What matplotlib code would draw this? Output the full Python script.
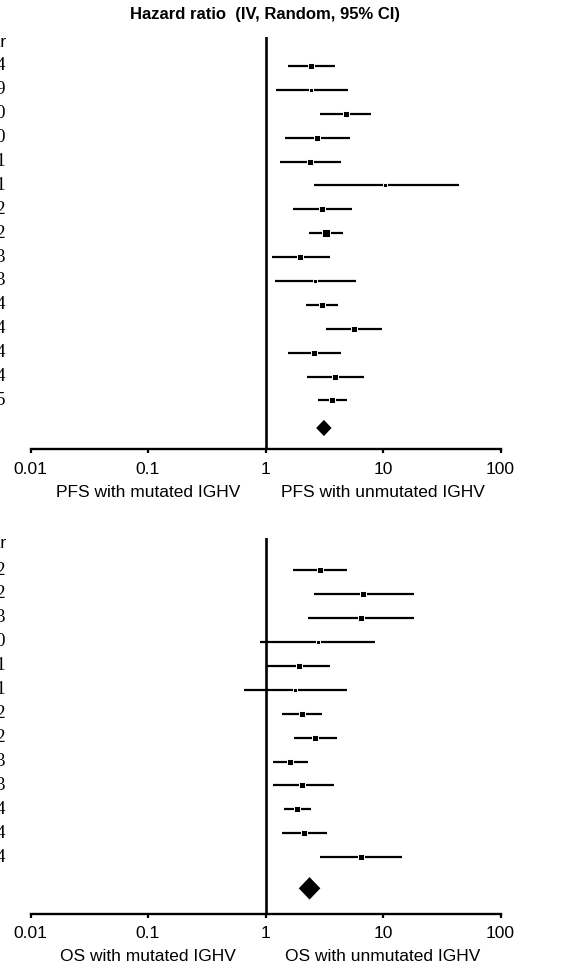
import matplotlib
matplotlib.use("Agg")
import matplotlib.pyplot as plt
import matplotlib.transforms as transforms

# PFS panel (top)
pfs_years = ["2004", "2009", "2010", "2010", "2011", "2011", "2012", "2012",
             "2013", "2013", "2014", "2014", "2014", "2014", "2015"]
pfs_hr = [2.45, 2.42, 4.81, 2.74, 2.40, 10.5, 3.04, 3.27, 1.96, 2.63, 3.00, 5.63, 2.57, 3.88, 3.68]
pfs_low = [1.56, 1.22, 2.93, 1.47, 1.33, 2.58, 1.73, 2.33, 1.14, 1.20, 2.19, 3.25, 1.54, 2.24, 2.79]
pfs_high = [3.87, 5.03, 7.85, 5.27, 4.39, 44.2, 5.48, 4.56, 3.51, 5.85, 4.13, 9.75, 4.36, 6.85, 4.93]
pfs_weight = [2.5, 2.0, 2.5, 3.0, 3.0, 1.5, 3.0, 4.0, 3.0, 1.5, 3.5, 3.0, 2.5, 3.0, 3.5]
pfs_pooled = [3.14, 2.70, 3.65]  # estimate, low, high

# OS panel (bottom)
os_years = ["2012", "2012", "2013", "2010", "2011", "2011", "2012", "2012",
            "2013", "2013", "2014", "2014", "2014"]
os_hr = [2.89, 6.75, 6.54, 2.79, 1.92, 1.80, 2.05, 2.63, 1.61, 2.05, 1.86, 2.12, 6.45]
os_low = [1.70, 2.58, 2.30, 0.906, 1.01, 0.653, 1.38, 1.74, 1.15, 1.15, 1.44, 1.39, 2.93]
os_high = [4.93, 18.5, 18.4, 8.55, 3.56, 4.90, 3.00, 4.05, 2.28, 3.82, 2.45, 3.33, 14.4]
os_weight = [3.0, 3.0, 3.0, 1.5, 3.0, 1.5, 3.5, 3.5, 3.5, 2.5, 3.5, 3.5, 2.5]
os_pooled = [2.37, 1.92, 2.93]

tick_values = [0.01, 0.1, 1, 10, 100]
tick_labels = ["0.01", "0.1", "1", "10", "100"]

W, H = 575, 968
fig = plt.figure(figsize=(W / 100, H / 100), dpi=100)
plt.rcParams['font.family'] = ['Liberation Sans', 'DejaVu Sans']

ax_left = 30.5 / W
ax_width = 470 / W


def draw_panel(ax, years, hr, low, high, weight, pooled, diamond_row, diamond_half,
               header_row, ylim, label_left, label_right):
    ax.set_xscale('log')
    ax.set_xlim(0.01, 100)
    ax.set_ylim(*ylim)

    rows = list(range(len(hr)))
    for i in rows:
        ax.plot([low[i], high[i]], [i, i], color='black', lw=1.6, solid_capstyle='butt', zorder=2)
        ax.plot(hr[i], i, marker='s', color='black', markersize=weight[i] + 1.2,
                markeredgecolor='white', markeredgewidth=0.7, zorder=3)

    # pooled estimate diamond
    est, lo, hi = pooled
    ax.fill([lo, est, hi, est], [diamond_row, diamond_row - diamond_half, diamond_row, diamond_row + diamond_half],
            color='black', lw=0, zorder=3)

    ax.axvline(1, color='black', lw=1.9, zorder=1)

    for side in ['top', 'right', 'left']:
        ax.spines[side].set_visible(False)
    ax.spines['bottom'].set_linewidth(1.7)
    ax.set_yticks([])
    ax.set_xticks(tick_values)
    ax.set_xticklabels(tick_labels)
    ax.minorticks_off()
    ax.tick_params(axis='x', direction='out', length=3, width=1.6, labelsize=12.5, pad=6)

    # cut-off year column on the far left
    trans = transforms.blended_transform_factory(fig.transFigure, ax.transData)
    ax.text(6.5 / W, header_row, "Year", transform=trans, ha='right', va='center',
            fontsize=12.5, clip_on=False)
    for i in rows:
        ax.text(5.5 / W, i, years[i], transform=trans, ha='right', va='center',
                fontsize=13.5, family='Liberation Serif', clip_on=False)

    ax.annotate(label_left, xy=(0.1, 0), xycoords=('data', 'axes fraction'),
                xytext=(0, -31), textcoords='offset points', ha='center', va='center', fontsize=12.5)
    ax.annotate(label_right, xy=(10, 0), xycoords=('data', 'axes fraction'),
                xytext=(0, -31), textcoords='offset points', ha='center', va='center', fontsize=12.5)


ax1 = fig.add_axes([ax_left, 1 - 449 / H, ax_width, (449 - 37) / H])
draw_panel(ax1, pfs_years, pfs_hr, pfs_low, pfs_high, pfs_weight, pfs_pooled,
           15.15, 0.34, -0.96, (16.03, -1.21),
           "PFS with mutated IGHV", "PFS with unmutated IGHV")

ax2 = fig.add_axes([ax_left, 1 - 913.7 / H, ax_width, (913.7 - 538) / H])
draw_panel(ax2, os_years, os_hr, os_low, os_high, os_weight, os_pooled,
           13.3, 0.47, -1.09, (14.36, -1.34),
           "OS with mutated IGHV", "OS with unmutated IGHV")

fig.text(265.5 / W, 1 - 15 / H, "Hazard ratio  (IV, Random, 95% CI)", ha='center', va='center',
         fontsize=12, fontweight='bold')

plt.savefig("out.png", dpi=100)
